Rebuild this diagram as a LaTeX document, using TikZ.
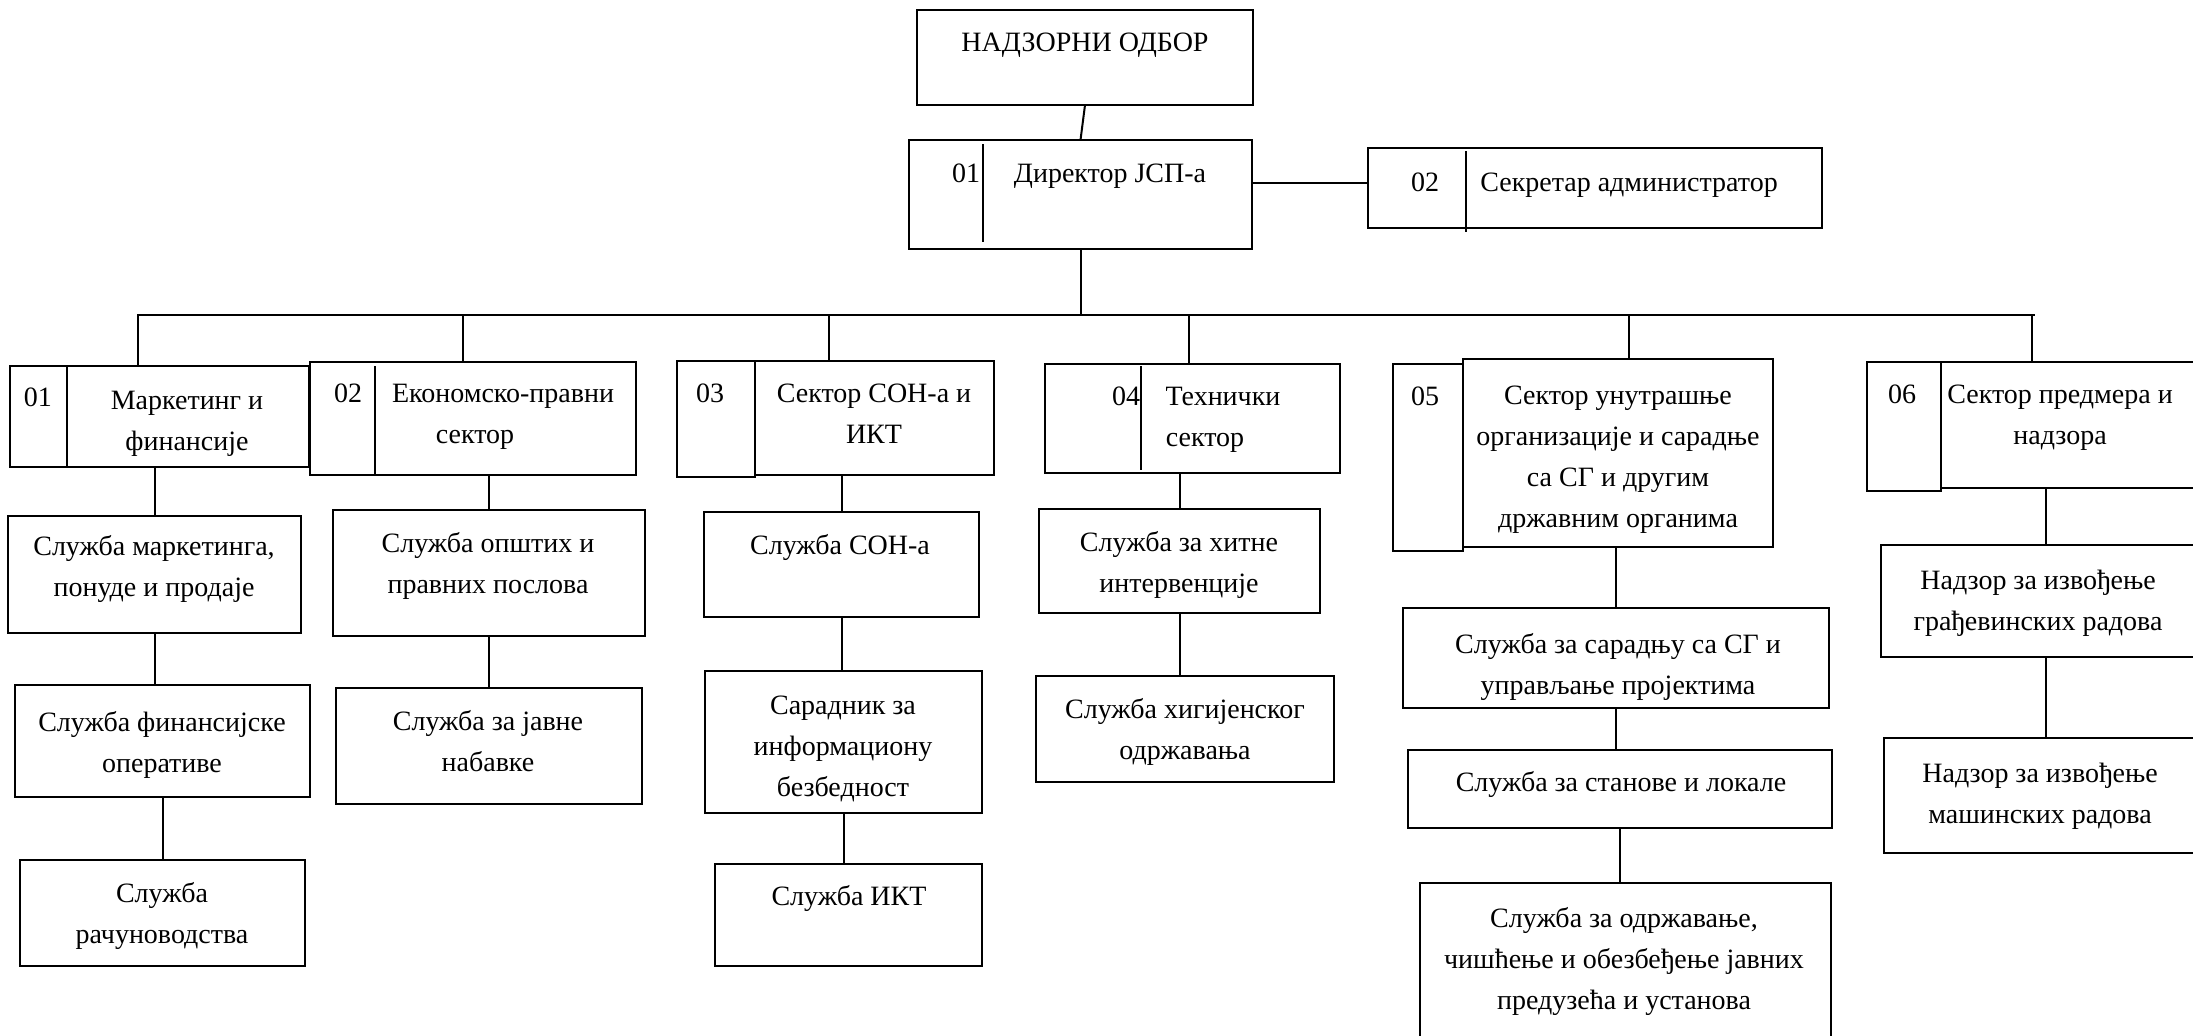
\documentclass[tikz,border=0pt]{standalone}
\usepackage{fontspec}
\setmainfont{Liberation Serif}
\usetikzlibrary{fit}

\tikzset{
  orgbox/.style={draw, line width=1.2pt, inner sep=0pt, outer sep=0pt},
  orgtxt/.style={align=center, anchor=base, inner sep=0pt, outer sep=0pt, font=\fontsize{14}{20.5}\selectfont},
  link/.style={line width=1pt},
}

\begin{document}
\begin{tikzpicture}[x=0.5pt,y=-0.5pt]
\path[use as bounding box,fill=white] (0,0) rectangle (2193,1035);
\clip (0,0) rectangle (2193,1035);

\node[orgbox,fit={(917,10) (1253,105)}] (nad) {};
\node[orgtxt] (nad-t) at (1085,51) {НАДЗОРНИ ОДБОР};

\node[orgbox,fit={(909,140) (1252,249)}] (dir) {};
\draw[link] (983,144) -- (983,242);
\node[orgtxt] (dir-n) at (966,182) {01};
\node[orgtxt] (dir-t) at (1110,182) {Директор ЈСП-а};

\node[orgbox,fit={(1368,148) (1822,228)}] (sec) {};
\draw[link] (1466,151) -- (1466,232);
\node[orgtxt] (sec-n) at (1425,191) {02};
\node[orgtxt] (sec-t) at (1629,191) {Секретар администратор};

\node[orgbox,fit={(10,366) (67,467)}] (s1n) {};
\node[orgbox,fit={(67,366) (309,467)}] (s1) {};
\node[orgtxt] (s1-n) at (38,406) {01};
\node[orgtxt] (s1-t) at (187,450) {Маркетинг и\\финансије};

\node[orgbox,fit={(310,362) (636,475)}] (s2) {};
\draw[link] (375,366) -- (375,475);
\node[orgtxt] (s2-n) at (348,402) {02};
\node[orgtxt] (s2-t) at (503,443) {Економско-правни\\\hspace*{-28pt}сектор};

\node[orgbox,fit={(677,361) (755,477)}] (s3n) {};
\node[orgbox,fit={(755,361) (994,475)}] (s3) {};
\node[orgtxt] (s3-n) at (710,402) {03};
\node[orgtxt] (s3-t) at (874,443) {Сектор СОН-а и\\ИКТ};

\node[orgbox,fit={(1045,364) (1340,473)}] (s4) {};
\draw[link] (1141,366) -- (1141,470);
\node[orgtxt] (s4-n) at (1126,405) {04};
\node[orgtxt] (s4-t) at (1205,446) {\hspace*{18pt}Технички\\сектор};

\node[orgbox,fit={(1393,364) (1463,551)}] (s5n) {};
\node[orgbox,fit={(1463,359) (1773,547)}] (s5) {};
\node[orgtxt] (s5-n) at (1425,405) {05};
\node[orgtxt] (s5-t) at (1618,527) {Сектор унутрашње\\организације и сарадње\\са СГ и другим\\државним органима};

\node[orgbox,fit={(1867,362) (1941,491)}] (s6n) {};
\node[orgbox,fit={(1941,362) (2210,488)}] (s6) {};
\node[orgtxt] (s6-n) at (1902,403) {06};
\node[orgtxt] (s6-t) at (2060,444) {Сектор предмера и\\надзора};

\node[orgbox,fit={(8,516) (301,633)}] (a1) {};
\node[orgtxt] (a1-t) at (154,596) {Служба маркетинга,\\понуде и продаје};
\node[orgbox,fit={(15,685) (310,797)}] (a2) {};
\node[orgtxt] (a2-t) at (162,772) {Служба финансијске\\оперативе};
\node[orgbox,fit={(20,860) (305,966)}] (a3) {};
\node[orgtxt] (a3-t) at (162,943) {Служба\\рачуноводства};

\node[orgbox,fit={(333,510) (645,636)}] (b1) {};
\node[orgtxt] (b1-t) at (488,593) {Служба општих и\\правних послова};
\node[orgbox,fit={(336,688) (642,804)}] (b2) {};
\node[orgtxt] (b2-t) at (488,771) {Служба за јавне\\набавке};

\node[orgbox,fit={(704,512) (979,617)}] (c1) {};
\node[orgtxt] (c1-t) at (840,554) {Служба СОН-а};
\node[orgbox,fit={(705,671) (982,813)}] (c2) {};
\node[orgtxt] (c2-t) at (843,796) {Сарадник за\\информациону\\безбедност};
\node[orgbox,fit={(715,864) (982,966)}] (c3) {};
\node[orgtxt] (c3-t) at (849,905) {Служба ИКТ};

\node[orgbox,fit={(1039,509) (1320,613)}] (d1) {};
\node[orgtxt] (d1-t) at (1179,592) {Служба за хитне\\интервенције};
\node[orgbox,fit={(1036,676) (1334,782)}] (d2) {};
\node[orgtxt] (d2-t) at (1185,759) {Служба хигијенског\\одржавања};

\node[orgbox,fit={(1403,608) (1829,708)}] (e1) {};
\node[orgtxt] (e1-t) at (1618,694) {Служба за сарадњу са СГ и\\управљање пројектима};
\node[orgbox,fit={(1408,750) (1832,828)}] (e2) {};
\node[orgtxt] (e2-t) at (1621,791) {Служба за станове и локале};
\node[orgbox,fit={(1420,883) (1831,1060)}] (e3) {};
\node[orgtxt] (e3-t) at (1624,1009) {Служба за одржавање,\\чишћење и обезбеђење јавних\\предузећа и установа};

\node[orgbox,fit={(1881,545) (2210,657)}] (f1) {};
\node[orgtxt] (f1-t) at (2038,630) {Надзор за извођење\\грађевинских радова};
\node[orgbox,fit={(1884,738) (2210,853)}] (f2) {};
\node[orgtxt] (f2-t) at (2040,823) {Надзор за извођење\\машинских радова};

% connectors
\coordinate (busL) at (137,315);
\coordinate (busR) at (2035,315);
\coordinate (j1) at (138,315);
\coordinate (j2) at (463,315);
\coordinate (j3) at (829,315);
\coordinate (j4) at (1189,315);
\coordinate (j5) at (1629,315);
\coordinate (j6) at (2032,315);
\coordinate (dsec) at (1252,183);

\draw[link] (nad.south) -- (dir.north);
\draw[link] (dsec) -- (dsec -| sec.west);
\draw[link] (dir.south) -- (dir.south |- busL);
\draw[link] (busL) -- (busR);
\draw[link] (j1) -- (j1 |- s1.north);
\draw[link] (j2) -- (j2 |- s2.north);
\draw[link] (j3) -- (j3 |- s3.north);
\draw[link] (j4) -- (j4 |- s4.north);
\draw[link] (j5) -- (j5 |- s5.north);
\draw[link] (j6) -- (j6 |- s6.north);

\draw[link] (a1.north |- s1.south) -- (a1.north);
\draw[link] (a1.south) -- (a1.south |- a2.north);
\draw[link] (a2.south) -- (a2.south |- a3.north);
\draw[link] (b1.north |- s2.south) -- (b1.north);
\draw[link] (b1.south) -- (b1.south |- b2.north);
\draw[link] (c1.north |- s3.south) -- (c1.north);
\draw[link] (c1.south) -- (c1.south |- c2.north);
\draw[link] (c2.south) -- (c2.south |- c3.north);
\draw[link] (d1.north |- s4.south) -- (d1.north);
\draw[link] (d1.south) -- (d1.south |- d2.north);
\draw[link] (e1.north |- s5.south) -- (e1.north);
\draw[link] (e1.south) -- (e1.south |- e2.north);
\draw[link] (e2.south) -- (e2.south |- e3.north);
\draw[link] (f1.north |- s6.south) -- (f1.north);
\draw[link] (f1.south) -- (f1.south |- f2.north);
\end{tikzpicture}
\end{document}
